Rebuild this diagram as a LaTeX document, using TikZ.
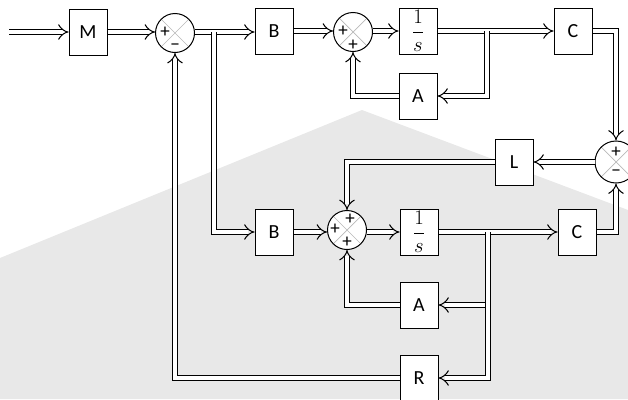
\documentclass[tikz,border=0pt]{standalone}
\usepackage{fontspec}
\setmainfont{Carlito}
\usetikzlibrary{arrows.meta}
\begin{document}
\begin{tikzpicture}[x=1pt,y=-1pt,
  blk/.style={draw, fill=white, line width=1pt, minimum width=38pt, minimum height=46pt, inner sep=0pt, font=\fontsize{20}{22}\selectfont},
  sumc/.style={circle, draw, fill=white, line width=1pt, minimum size=39pt, inner sep=0pt,
    path picture={\draw[gray!55, line width=0.7pt]
      (path picture bounding box.north west) -- (path picture bounding box.south east)
      (path picture bounding box.north east) -- (path picture bounding box.south west);}},
  sgn/.style={font=\fontsize{19}{19}\selectfont, inner sep=0pt},
  vec/.style={draw, line width=1pt, double=white, double distance=4.5pt, -{Implies[scale=1.4]}},
  frac/.style={font=\fontsize{20}{22}\selectfont}
]
\useasboundingbox (0,0) rectangle (628,399);
% watermark background region
\fill[gray!18] (0,258) -- (362,110) -- (628,210) -- (628,399) -- (0,399) -- cycle;

% nodes
\coordinate (in) at (9,32);
\node[blk] (M) at (88,32) {M};
\node[sumc] (s1) at (175,33) {};
\node[blk] (B1) at (274,31) {B};
\node[sumc] (s2) at (353,32) {};
\node[blk, frac] (I1) at (418,31) {$\displaystyle\frac{1}{s}$};
\node[blk] (C1) at (573,31) {C};
\node[blk] (A1) at (418,96) {A};
\node[sumc, minimum size=42pt] (s3) at (616,162) {};
\node[blk] (L) at (514,162) {L};
\node[sumc] (s4) at (347,230) {};
\node[blk] (B2) at (274,232) {B};
\node[blk, frac] (I2) at (419,232) {$\displaystyle\frac{1}{s}$};
\node[blk] (C2) at (577,232) {C};
\node[blk] (A2) at (419,305) {A};
\node[blk] (R) at (419,378) {R};

% signs
\node[sgn] (p1) at ([shift={(-10,-1)}]s1.center) {+};
\node[sgn] (m1) at ([shift={(0,14)}]s1.center) {\textminus};
\node[sgn] (p2) at ([shift={(-10,-1)}]s2.center) {+};
\node[sgn] (p2b) at ([shift={(0,13)}]s2.center) {+};
\node[sgn] (p3) at ([shift={(0,-10)}]s3.center) {+};
\node[sgn] (m3) at ([shift={(0,11)}]s3.center) {\textminus};
\node[sgn] (p4) at ([shift={(-12,-1)}]s4.center) {+};
\node[sgn] (p4t) at ([shift={(3,-11)}]s4.center) {+};
\node[sgn] (p4b) at ([shift={(0,12)}]s4.center) {+};

% split points
\coordinate (sp1) at (214,32);
\coordinate (sp2) at (487,31);
\coordinate (sp3) at (488,232);

% connectors: main paths
\path[vec] (in) -- (M.west);
\path[vec] (M.east |- 0,32) -- (s1.west |- 0,32);
\path[vec] (s1.east |- 0,32) -- (B1.west |- 0,32);
\path[vec] (B1.east) -- (s2.west |- B1.east);
\path[vec] (s2.east |- I1.west) -- (I1.west);
\path[vec] (I1.east) -- (C1.west);
\path[vec] (C1.east) -| (s3.north);
\path[vec] (s3.west) -- (L.east);
\path[vec] (L.west) -| (s4.north);
\path[vec] (B2.east) -- (s4.west |- B2.east);
\path[vec] (s4.east |- I2.west) -- (I2.west);
\path[vec] (I2.east) -- (C2.west);
\path[vec] (C2.east) -| (s3.south);
\path[vec] (A1.west) -| (s2.south);
\path[vec] (A2.west) -| (s4.south);
\path[vec] (R.west) -| (s1.south);
% branches
\path[vec] (sp1) |- (B2.west);
\path[vec] (sp2) |- (A1.east);
\path[vec] (sp3) |- (A2.east);
\path[vec] (sp3) |- (R.east);
\end{tikzpicture}
\end{document}
